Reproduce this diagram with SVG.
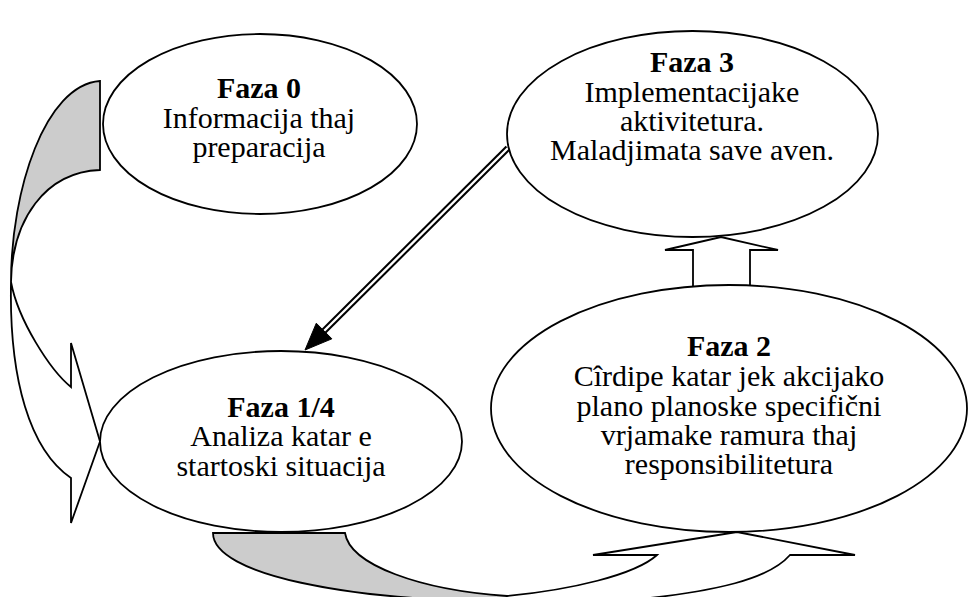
<svg xmlns="http://www.w3.org/2000/svg" width="968" height="597" viewBox="0 0 968 597">
<style>
.sh{stroke:#000;stroke-width:1.8;stroke-linejoin:miter}
.wf{fill:#fff}
.gf{fill:#cccccc}
.t{font-family:"Liberation Serif","Times New Roman",serif;font-size:30px;fill:#000;text-anchor:middle}
.b{font-weight:bold}
</style>
<rect width="968" height="597" fill="#fff"/>
<g id="connectors">
  <g id="arrow-0-to-1">
    <path class="sh gf" d="M100,81 C45,85 11,190 11,282 C12,220 45,172 100,170 Z"/>
    <path class="sh wf" d="M11,282 C9,380 30,450 71,478 L71,523 L100,441.5 L71,343 L71,387 C50,370 18,320 11,282 Z"/>
  </g>
  <g id="arrow-1-to-2">
    <path class="sh gf" d="M213,533 L345,533 C350,565 420,590 507,596 L507,601 C350,601 213,575 213,533 Z"/>
    <path class="sh wf" d="M507,596 C570,590 635,575 657,555 L593,555 L737,532 L855,555 L790,555 C770,578 720,592 620,601 L507,601 Z"/>
  </g>
  <g id="arrow-2-to-3">
    <polygon class="sh wf" points="693,287 693,250 665,250 721,237 778,250 750,250 750,287"/>
  </g>
  <g id="arrow-3-to-1">
    <line x1="508" y1="148" x2="322" y2="333" stroke="#000" stroke-width="6.5"/>
    <line x1="508" y1="148" x2="324" y2="331" stroke="#fff" stroke-width="2.4"/>
    <polygon points="305,350 331.9,338.8 316.3,323.2" fill="#000" stroke="#000" stroke-width="1"/>
  </g>
</g>
<g id="faza0">
  <ellipse class="sh wf" cx="260" cy="124" rx="157" ry="90"/>
  <text class="t b" x="259" y="98">Faza 0</text>
  <text class="t" x="259" y="127.5">Informacija thaj</text>
  <text class="t" x="259" y="157">preparacija</text>
</g>
<g id="faza3">
  <ellipse class="sh wf" cx="692.5" cy="134" rx="185.5" ry="103"/>
  <text class="t b" x="692" y="72">Faza 3</text>
  <text class="t" x="692" y="101.5">Implementacijake</text>
  <text class="t" x="692" y="131">aktivitetura.</text>
  <text class="t" x="692" y="160">Maladjimata save aven.</text>
</g>
<g id="faza1-4">
  <ellipse class="sh wf" cx="281" cy="441.5" rx="181" ry="90.5"/>
  <text class="t b" x="281" y="416.5">Faza 1/4</text>
  <text class="t" x="281" y="446">Analiza katar e</text>
  <text class="t" x="281" y="475.5">startoski situacija</text>
</g>
<g id="faza2">
  <ellipse class="sh wf" cx="729" cy="408.5" rx="238" ry="123.5"/>
  <text class="t b" x="729" y="356">Faza 2</text>
  <text class="t" x="729" y="386">Cîrdipe katar jek akcijako</text>
  <text class="t" x="729" y="416">plano planoske specifični</text>
  <text class="t" x="729" y="445">vrjamake ramura thaj</text>
  <text class="t" x="729" y="474">responsibilitetura</text>
</g>
</svg>
